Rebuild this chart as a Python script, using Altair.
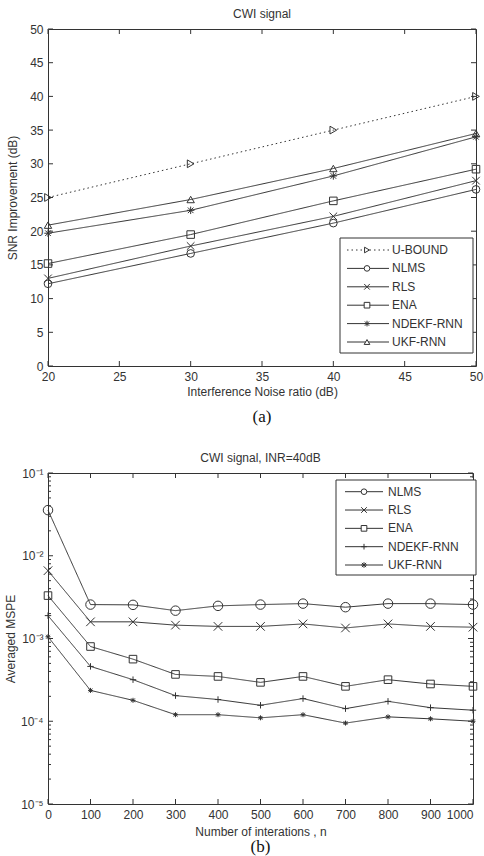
import altair as alt
import pandas as pd

INK = "#333333"
FONT = "Liberation Sans"
SERIF = "Liberation Serif"

# ---------------- Panel (a) data ----------------
inr = [20, 30, 40, 50]
names_a = ["U-BOUND", "NLMS", "RLS", "ENA", "NDEKF-RNN", "UKF-RNN"]
u_bound = [25, 30, 35, 40]
nlms_a = [12.2, 16.7, 21.2, 26.2]
rls_a = [13.0, 17.8, 22.2, 27.5]
ena_a = [15.2, 19.5, 24.5, 29.2]
ndekf_a = [19.7, 23.1, 28.2, 34.0]
ukf_a = [20.9, 24.7, 29.3, 34.5]
xticks_a = [20, 25, 30, 35, 40, 45, 50]
yticks_a = [0, 5, 10, 15, 20, 25, 30, 35, 40, 45, 50]

# ---------------- Panel (b) data ----------------
iters = [0, 100, 200, 300, 400, 500, 600, 700, 800, 900, 1000]
names_b = ["NLMS", "RLS", "ENA", "NDEKF-RNN", "UKF-RNN"]
nlms_b = [0.0356, 0.00257, 0.00255, 0.00217, 0.00248, 0.00257, 0.00264, 0.00239, 0.00264, 0.00264, 0.00257]
rls_b = [0.0066, 0.00159, 0.00159, 0.00145, 0.0014, 0.0014, 0.0015, 0.00134, 0.0015, 0.0014, 0.00137]
ena_b = [0.0033, 0.0008, 0.000563, 0.000368, 0.000348, 0.000295, 0.000348, 0.000264, 0.000318, 0.000282, 0.000264]
ndekf_b = [0.00189, 0.00046, 0.000318, 0.000204, 0.000183, 0.000156, 0.000188, 0.000142, 0.000174, 0.000146, 0.000136]
ukf_b = [0.00105, 0.000236, 0.000179, 0.00012, 0.00012, 0.00011, 0.00012, 0.000095, 0.000113, 0.000107, 0.0001]
xticks_b = [0, 100, 200, 300, 400, 500, 600, 700, 800, 900, 1000]
yticks_b = [1e-5, 1e-4, 1e-3, 1e-2, 1e-1]
yminor_b = [m * d for d in [1e-5, 1e-4, 1e-3, 1e-2] for m in range(2, 10)]

# ---------------- marker shapes ----------------
X_PATH = "M-1,-1L1,1M-1,1L1,-1"
PLUS_PATH = "M0,-1L0,1M-1,0L1,0"
STAR_PATH = "M0,-1L0,1M-1,0L1,0M-0.75,-0.75L0.75,0.75M-0.75,0.75L0.75,-0.75"

shapes_a = ["triangle-right", "circle", X_PATH, "square", STAR_PATH, "triangle-up"]
sizes_a = [60, 55, 25, 60, 40, 60]
dash_a = [[1.5, 3], [1, 0], [1, 0], [1, 0], [1, 0], [1, 0]]

shapes_b = ["circle", X_PATH, "square", PLUS_PATH, STAR_PATH]
sizes_b = [90, 25, 90, 60, 45]
dash_b = [[1, 0], [1, 0], [1, 0], [1, 0], [1, 0]]

LOG_LABEL = ("datum.value > 0.05 ? '10\u207b\u00b9' : datum.value > 0.005 ? '10\u207b\u00b2' : "
             "datum.value > 0.0005 ? '10\u207b\u00b3' : datum.value > 0.00005 ? '10\u207b\u2074' : '10\u207b\u2075'")


def long_df(xs, names, series):
    rows = []
    for name, vals in zip(names, series):
        for x, v in zip(xs, vals):
            rows.append({"x": x, "y": v, "series": name})
    return pd.DataFrame(rows)


def panel(df, names, shapes, sizes, dashes, W, H, xscale, yscale, xvals, yvals,
          xtitle, ytitle, title, title_offset, caption, cap_dy, yminor, leg,
          ylabel_expr=None, ytitle_pad=8, xtitle_pad=4, last_label_right=False):
    shape_enc = alt.Shape("series:N", scale=alt.Scale(domain=names, range=shapes), legend=None)
    size_enc = alt.Size("series:N", scale=alt.Scale(domain=names, range=sizes), legend=None)
    dash_enc = alt.StrokeDash("series:N", scale=alt.Scale(domain=names, range=dashes), legend=None)

    yaxis_kw = dict(values=yvals, title=ytitle, titlePadding=ytitle_pad)
    if ylabel_expr:
        yaxis_kw["labelExpr"] = ylabel_expr
    xaxis_kw = dict(values=xvals, title=xtitle, format="d", labelFlush=False, titlePadding=xtitle_pad)
    if last_label_right:
        xaxis_kw["labelAlign"] = {"condition": {"test": f"datum.value >= {xvals[-1]}", "value": "right"},
                                  "value": "center"}
    xaxis = alt.Axis(**xaxis_kw)
    yaxis = alt.Axis(labelFlush=False, **yaxis_kw)
    x = alt.X("x:Q", scale=xscale, axis=xaxis)
    y = alt.Y("y:Q", scale=yscale, axis=yaxis)

    lines = alt.Chart(df).mark_line(color=INK, strokeWidth=1).encode(
        x=x, y=y, detail="series:N", strokeDash=dash_enc)
    pts = alt.Chart(df).mark_point(filled=False, color=INK, strokeWidth=1, opacity=1).encode(
        x=x, y=y, shape=shape_enc, size=size_enc)

    xt = pd.DataFrame({"x": xvals})
    yt = pd.DataFrame({"y": yvals})
    tick_layers = [
        alt.Chart(xt).mark_rule(color=INK).encode(x=x, y=alt.value(H), y2=alt.value(H - 5)),
        alt.Chart(xt).mark_rule(color=INK).encode(x=x, y=alt.value(0), y2=alt.value(5)),
        alt.Chart(yt).mark_rule(color=INK).encode(y=y, x=alt.value(0), x2=alt.value(5)),
        alt.Chart(yt).mark_rule(color=INK).encode(y=y, x=alt.value(W), x2=alt.value(W - 5)),
    ]
    if yminor:
        ym = pd.DataFrame({"y": yminor})
        tick_layers += [
            alt.Chart(ym).mark_rule(color=INK).encode(y=y, x=alt.value(0), x2=alt.value(3)),
            alt.Chart(ym).mark_rule(color=INK).encode(y=y, x=alt.value(W), x2=alt.value(W - 3)),
        ]
    cap = alt.Chart(pd.DataFrame({"c": [caption]})).mark_text(
        font=SERIF, fontSize=17, color="#111", baseline="middle", align="center").encode(
        x=alt.value(W / 2), y=alt.value(H + cap_dy), text="c:N")

    main = alt.layer(lines, pts, *tick_layers, cap)

    # legend box drawn with the chart's own shape/dash scales
    n = len(names)
    leg_df = pd.DataFrame({"series": names, "row": list(range(n))})
    ly = alt.Y("row:Q", scale=alt.Scale(domain=[0, n - 1], range=[leg["y0"], leg["y1"]]), axis=None)
    box = alt.Chart(pd.DataFrame({"b": [0]})).mark_rect(
        fill="white", stroke=INK, strokeWidth=1).encode(
        x=alt.value(leg["bx0"]), x2=alt.value(leg["bx1"]),
        y=alt.value(leg["by0"]), y2=alt.value(leg["by1"]))
    lline = alt.Chart(leg_df).mark_rule(color=INK, strokeWidth=1).encode(
        x=alt.value(leg["lx0"]), x2=alt.value(leg["lx1"]), y=ly, strokeDash=dash_enc)
    lpt = alt.Chart(leg_df).mark_point(filled=False, color=INK, strokeWidth=1, opacity=1,
                                       fill="white", fillOpacity=1).encode(
        x=alt.value(leg["mx"]), y=ly, shape=shape_enc, size=alt.value(leg["msize"]))
    ltxt = alt.Chart(leg_df).mark_text(
        align="left", baseline="middle", font=FONT, fontSize=12, color=INK).encode(
        x=alt.value(leg["tx"]), y=ly, text="series:N")
    legend = alt.layer(box, lline, lpt, ltxt)

    return alt.layer(main, legend).resolve_scale(y="independent").properties(
        width=W, height=H,
        title=alt.TitleParams(title, font=FONT, fontSize=12, fontWeight="normal",
                              color=INK, offset=title_offset, anchor="middle"))


# ---------------- build panels ----------------
df_a = long_df(inr, names_a, [u_bound, nlms_a, rls_a, ena_a, ndekf_a, ukf_a])
df_b = long_df(iters, names_b, [nlms_b, rls_b, ena_b, ndekf_b, ukf_b])

WA, HA = 428, 337
WB, HB = 425, 331

chart_a = panel(
    df_a, names_a, shapes_a, sizes_a, dash_a, WA, HA,
    alt.Scale(domain=[20, 50], nice=False, zero=False),
    alt.Scale(domain=[0, 50], nice=False),
    xticks_a, yticks_a,
    "Interference Noise ratio (dB)", "SNR Improvement (dB)", "CWI signal", 2, "(a)", 51, None,
    dict(y0=221, y1=313, bx0=292, bx1=425, by0=209, by1=324, lx0=299, lx1=341, mx=319, tx=344,
         msize=32),
    ytitle_pad=10, xtitle_pad=4,
)

chart_b = panel(
    df_b, names_b, shapes_b, sizes_b, dash_b, WB, HB,
    alt.Scale(domain=[0, 1000], nice=False),
    alt.Scale(type="log", domain=[1e-5, 1e-1], nice=False),
    xticks_b, yticks_b,
    "Number of interations , n", "Averaged MSPE", "CWI signal, INR=40dB", 2, "(b)", 43, yminor_b,
    dict(y0=18.7, y1=92, bx0=288, bx1=428, by0=7, by1=102, lx0=297, lx1=335, mx=316, tx=340,
         msize=32),
    ylabel_expr=LOG_LABEL, ytitle_pad=3, xtitle_pad=6, last_label_right=True,
)

chart = alt.vconcat(chart_a, chart_b, spacing=25).resolve_scale(
    shape="independent", size="independent", strokeDash="independent",
    x="independent", y="independent",
).properties(
    padding={"left": 3, "top": 7, "right": 0, "bottom": 0},
    background="white",
).configure_view(
    stroke=INK, strokeWidth=1,
).configure_axis(
    labelFont=FONT, labelFontSize=12, labelColor=INK,
    titleFont=FONT, titleFontSize=12, titleFontWeight="normal", titleColor=INK,
    ticks=False, domain=False, grid=False, labelPadding=5,
)

chart.save("out.html", embed_options={"renderer": "svg", "actions": False})
